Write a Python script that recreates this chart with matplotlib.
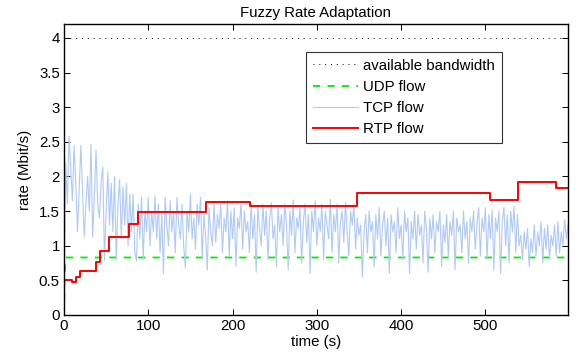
import matplotlib
matplotlib.use("Agg")
import matplotlib.pyplot as plt
import numpy as np

plt.rcParams['font.family'] = ['Liberation Sans', 'DejaVu Sans']

# available bandwidth
bw_t = [0, 598]
bw_v = [4.0, 4.0]

# UDP flow (key points)
udp_t = [0, 1, 2, 600]
udp_v = [0.0, 0.62, 0.83, 0.83]

# RTP flow (step changes)
rtp_t = [0, 10, 14, 19, 38, 43, 53, 77, 88, 169, 221, 348, 505, 539, 584, 598]
rtp_v = [0.50, 0.47, 0.55, 0.64, 0.77, 0.93, 1.13, 1.31, 1.49, 1.63, 1.57, 1.76, 1.66, 1.92, 1.83, 1.83]

tcp_v = [
    0.10, 2.20, 1.60, 2.58, 2.10, 1.65, 2.45, 1.90, 1.20, 1.80,
    2.45, 1.80, 1.13, 1.60, 2.00, 1.50, 2.46, 1.13, 1.70, 2.38,
    1.60, 1.40, 1.90, 2.14, 0.79, 1.50, 2.07, 1.30, 1.90, 1.20,
    2.00, 0.79, 1.60, 1.95, 1.10, 1.85, 1.30, 1.90, 1.00, 1.75,
    1.20, 1.75, 0.90, 0.78, 1.60, 1.10, 1.70, 0.80, 1.50, 1.20,
    1.70, 1.00, 1.50, 1.20, 1.72, 1.10, 1.60, 0.90, 1.45, 0.60,
    1.70, 1.30, 1.00, 1.65, 1.20, 1.50, 0.90, 1.70, 1.30, 1.10,
    1.60, 1.00, 0.68, 1.50, 1.20, 1.75, 1.10, 1.40, 0.95, 1.60,
    1.30, 1.70, 0.80, 1.45, 1.15, 0.65, 1.55, 1.20, 1.00, 1.60,
    1.05, 1.45, 1.25, 1.60, 0.90, 1.40, 1.20, 1.65, 0.85, 1.50,
    1.10, 1.55, 0.70, 1.40, 1.25, 1.62, 0.95, 1.50, 1.20, 1.35,
    0.90, 1.60, 1.10, 1.45, 0.62, 1.55, 1.25, 1.00, 1.60, 1.15,
    1.50, 0.80, 1.40, 1.62, 1.10, 1.30, 0.70, 1.55, 1.20, 1.45,
    1.00, 1.60, 1.30, 0.65, 1.50, 1.15, 1.66, 0.90, 1.40, 1.25,
    1.55, 0.75, 1.35, 1.60, 1.05, 1.45, 0.60, 1.50, 1.20, 1.65,
    1.00, 1.40, 1.20, 1.60, 0.80, 1.50, 1.30, 1.10, 1.67, 0.90,
    1.45, 1.20, 1.60, 0.75, 1.35, 1.50, 1.05, 1.62, 1.20, 0.85,
    1.50, 1.30, 1.60, 0.95, 1.40, 1.15, 1.30, 0.55, 1.20, 1.45,
    0.90, 1.50, 1.20, 1.35, 0.70, 1.45, 1.10, 1.55, 0.85, 1.30,
    1.50, 1.00, 1.40, 0.60, 1.45, 1.20, 1.35, 0.90, 1.55, 1.10,
    1.30, 0.80, 1.50, 1.20, 1.40, 0.60, 1.35, 1.10, 1.50, 0.95,
    1.45, 1.15, 1.30, 0.75, 1.50, 1.25, 0.62, 1.40, 1.10, 1.45,
    0.90, 1.35, 1.20, 1.50, 0.70, 1.30, 1.05, 1.45, 0.85, 1.35,
    1.15, 1.50, 0.65, 1.40, 1.20, 1.30, 0.90, 1.50, 1.10, 1.35,
    0.75, 1.40, 1.20, 1.50, 0.95, 1.30, 1.55, 0.85, 1.40, 1.20,
    1.55, 0.80, 1.45, 1.10, 1.52, 0.65, 1.40, 1.20, 1.50, 0.60,
    1.35, 1.55, 1.00, 1.45, 0.75, 1.50, 1.20, 1.57, 0.90, 1.45,
    1.00, 1.15, 0.80, 1.20, 0.95, 1.25, 0.70, 1.10, 0.90, 1.30,
    0.85, 1.20, 1.00, 1.35, 0.75, 1.25, 0.95, 1.30, 0.80, 1.15,
    1.00, 1.30, 0.85, 1.35, 0.90, 1.20, 1.00, 1.38, 1.10, 1.30,
]
tcp_t = np.arange(len(tcp_v)) * 2

x_ticks = [0, 100, 200, 300, 400, 500]
y_ticks = [0, 0.5, 1, 1.5, 2, 2.5, 3, 3.5, 4]
y_labels = ['0', '0.5', '1', '1.5', '2', '2.5', '3', '3.5', '4']

FS = 10.8

fig = plt.figure(figsize=(5.78, 3.6), dpi=100)
ax = fig.add_axes([64/578, 45/360, 504/578, 291/360])

ax.plot(bw_t, bw_v, color='black', lw=0.7, ls=(0, (1, 5)), label='available bandwidth')
ax.plot(udp_t, udp_v, color='#00ee00', lw=1.3, ls=(0, (4, 4)), label='UDP flow')
ax.plot(tcp_t, tcp_v, color='#b0caf8', lw=0.8, label='TCP flow')
ax.plot(rtp_t, rtp_v, color='red', lw=1.4, drawstyle='steps-post', label='RTP flow')

ax.set_xlim(0, 598)
ax.set_ylim(0, 4.2)
ax.set_xticks(x_ticks)
ax.set_xticklabels([str(v) for v in x_ticks])
ax.set_yticks(y_ticks)
ax.set_yticklabels(y_labels)
ax.tick_params(direction='in', top=True, right=True, length=4, width=0.7, labelsize=FS, pad=3)
for s in ax.spines.values():
    s.set_linewidth(1.0)

ax.set_xlabel('time (s)', fontsize=FS, labelpad=1)
ax.set_ylabel('rate (Mbit/s)', fontsize=FS, labelpad=5)
ax.set_title('Fuzzy Rate Adaptation', fontsize=FS, pad=5)

leg = ax.legend(loc='upper left', bbox_to_anchor=(0.480, 0.904), borderaxespad=0,
                fontsize=FS, frameon=True, fancybox=False, edgecolor='black',
                handlelength=3.0, handletextpad=0.35, labelspacing=0.48, borderpad=0.45)
leg.get_frame().set_linewidth(0.8)

fig.savefig('out.png', dpi=100)
